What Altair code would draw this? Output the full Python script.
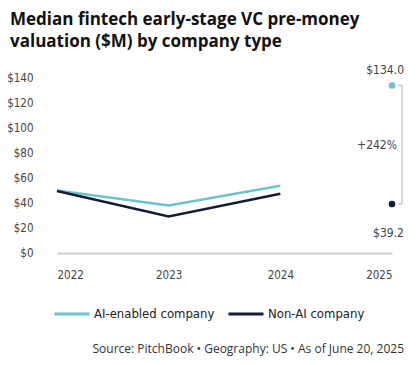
import altair as alt
import pandas as pd

title_lines = ["Median fintech early-stage VC pre-money", "valuation ($M) by company type"]
series = ["AI-enabled company", "Non-AI company"]
colors = ["#6cc4ca", "#141c3a"]
years = [2022, 2023, 2024]
ai_values = [50.0, 38.0, 53.8]
non_ai_values = [49.6, 29.3, 47.4]
end_year = 2025
end_values = [134.0, 39.2]
end_labels = ["$134.0", "$39.2"]
change_label = "+242%"
x_ticks = [2022, 2023, 2024, 2025]
y_ticks = [0, 20, 40, 60, 80, 100, 120, 140]
source_text = "Source: PitchBook  \u2022  Geography: US  \u2022  As of June 20, 2025"

FONT = "DejaVu Sans Condensed"

rows = []
for s, vals in zip(series, [ai_values, non_ai_values]):
    for y, v in zip(years, vals):
        rows.append({"year": y, "value": v, "series": s})
lines_df = pd.DataFrame(rows)

end_df = pd.DataFrame({"year": [end_year] * 2, "value": end_values,
                       "series": series, "label": end_labels})
bracket_df = pd.DataFrame({"year": [end_year], "top": [end_values[0]], "bottom": [end_values[1]],
                           "mid": [(end_values[0] + end_values[1]) / 2], "label": [change_label]})
src_df = pd.DataFrame({"t": [source_text]})

xs = alt.Scale(domain=[2022, 2025])
ys = alt.Scale(domain=[0, 140])
color = alt.Color("series:N", scale=alt.Scale(domain=series, range=colors),
                  legend=alt.Legend(orient="none", legendX=-4, legendY=217, direction="horizontal",
                                    title=None, symbolType="stroke", symbolSize=1225,
                                    symbolStrokeWidth=3, labelFontSize=13, labelFont=FONT,
                                    labelColor="#222", labelOffset=3, columnPadding=7))

x_axis = alt.Axis(values=x_ticks, format="d", title=None, grid=False, ticks=False,
                  domainColor="#cfcfcf", domainWidth=2, labelPadding=16,
                  labelFontSize=11.5, labelFont=FONT, labelColor="#444")
y_axis = alt.Axis(values=y_ticks, labelExpr="'$' + datum.value", title=None,
                  grid=False, ticks=False, domain=False, labelPadding=24,
                  labelOverlap=False, labelFontSize=11.5, labelFont=FONT, labelColor="#444")

X = alt.X("year:Q", scale=xs, axis=x_axis)


def Y(field):
    return alt.Y(field, scale=ys, axis=y_axis)


lines = alt.Chart(lines_df).mark_line(strokeWidth=2.5).encode(
    x=X, y=Y("value:Q"), color=color,
    order=alt.Order("year:Q"), detail="series:N")

points = alt.Chart(end_df).mark_circle(size=45, opacity=1).encode(
    x=X, y=Y("value:Q"), color=alt.Color("series:N", legend=None))

bracket = alt.Chart(bracket_df).mark_rule(xOffset=10, color="#c8c8c8", strokeWidth=1.5).encode(
    x=X, y=Y("top:Q"), y2="bottom:Q")

ticks = alt.Chart(end_df).mark_rule(xOffset=6, x2Offset=10, color="#c8c8c8", strokeWidth=1.5).encode(
    x=X, x2="year:Q", y=Y("value:Q"))

lab_top = alt.Chart(end_df.iloc[[0]]).mark_text(align="right", dx=12, dy=-16, fontSize=12,
                                                font=FONT, color="#444").encode(
    x=X, y=Y("value:Q"), text="label:N")
lab_bot = alt.Chart(end_df.iloc[[1]]).mark_text(align="right", dx=12, dy=29, fontSize=12,
                                                font=FONT, color="#444").encode(
    x=X, y=Y("value:Q"), text="label:N")
lab_mid = alt.Chart(bracket_df).mark_text(align="right", dx=5, fontSize=12,
                                          font=FONT, color="#444").encode(
    x=X, y=Y("mid:Q"), text="label:N")

source = alt.Chart(src_df).mark_text(align="right", baseline="middle", fontSize=12,
                                     font="Open Sans", color="#333").encode(
    x=alt.value(347), y=alt.value(271), text="t:N")

chart = alt.layer(lines, points, bracket, ticks, lab_top, lab_bot, lab_mid, source).properties(
    width=335, height=175,
    title=alt.TitleParams(text=title_lines, anchor="start", frame="group", dx=-47, dy=-9,
                          fontSize=17, font="Open Sans", fontWeight="bold", color="#111",
                          lineHeight=22),
    autosize=alt.AutoSizeParams(type="none"),
    padding={"left": 49, "top": 70, "right": 20, "bottom": 104},
).configure(background="white", view=alt.ViewConfig(stroke=None))

chart.save("out.html", embed_options={"renderer": "svg", "actions": False})
